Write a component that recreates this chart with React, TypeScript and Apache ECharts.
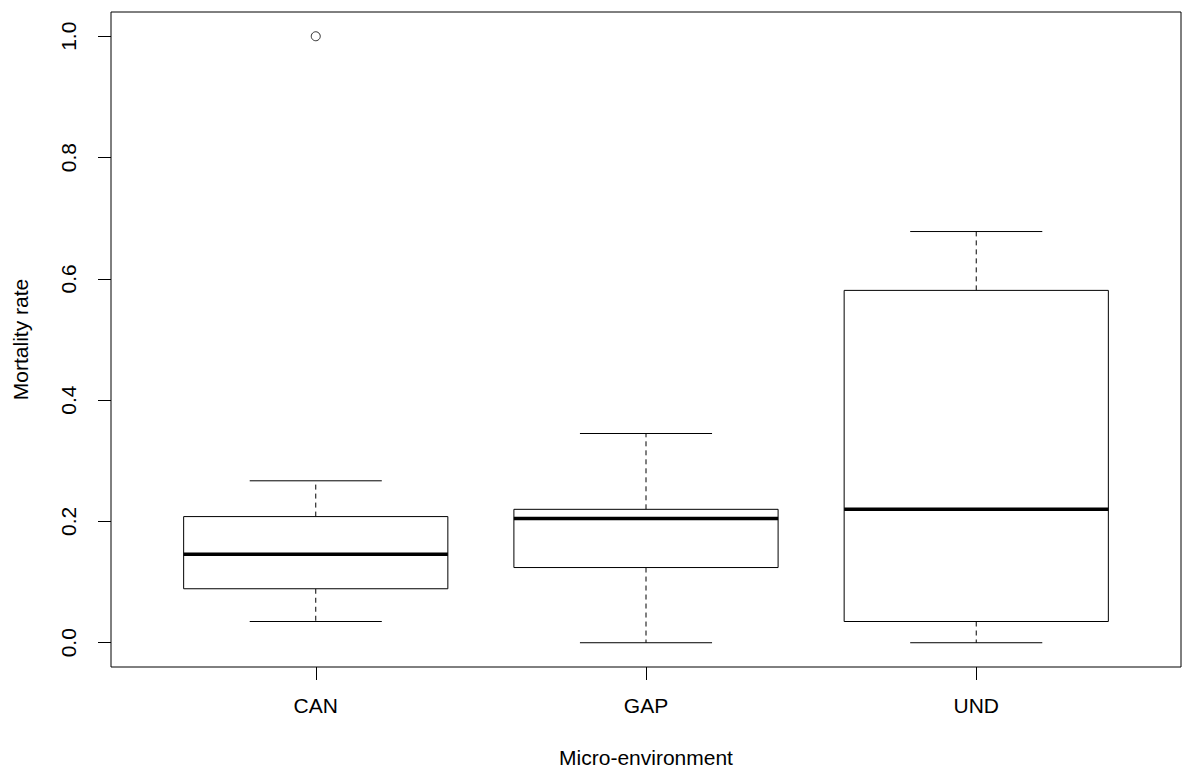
import React, { useEffect, useRef } from 'react';
import * as echarts from 'echarts';

const categories = ['CAN', 'GAP', 'UND'];
const xPositions = [1, 2, 3];
const lowerWhisker = [0.035, 0.0, 0.0];
const q1 = [0.089, 0.124, 0.035];
const median = [0.146, 0.205, 0.22];
const q3 = [0.208, 0.22, 0.581];
const upperWhisker = [0.267, 0.345, 0.678];
const outliers = [[1, 1.0]];
const yTicks = [0, 0.2, 0.4, 0.6, 0.8, 1.0];

const FONT = '"Liberation Sans", Arial, sans-serif';

export default function App() {
  const ref = useRef<HTMLDivElement>(null);

  useEffect(() => {
    const chart = echarts.init(ref.current!, null, { renderer: 'svg' });
    const boxData = categories.map((c, i) => [
      xPositions[i], lowerWhisker[i], q1[i], median[i], q3[i], upperWhisker[i],
    ]);

    chart.setOption({
      animation: false,
      backgroundColor: '#fff',
      grid: {
        left: 111, right: 1, top: 12, bottom: 103,
        show: true, borderColor: '#000', borderWidth: 1, backgroundColor: 'transparent',
      },
      xAxis: {
        type: 'value',
        min: 0.38,
        max: 3.62,
        axisLine: { show: false, onZero: false },
        splitLine: { show: false },
        axisTick: { show: true, length: 13, lineStyle: { color: '#000', width: 1 }, customValues: xPositions },
        axisLabel: {
          customValues: xPositions,
          formatter: (v: number) => {
            const i = xPositions.indexOf(Math.round(v));
            return i >= 0 ? categories[i] : '';
          },
          fontSize: 21, color: '#000', fontFamily: FONT, margin: 28,
        },
        name: 'Micro-environment',
        nameLocation: 'middle',
        nameGap: 80,
        nameTextStyle: { fontSize: 21, color: '#000', fontFamily: FONT },
      },
      yAxis: {
        type: 'value',
        min: -0.04,
        max: 1.04,
        axisLine: { show: false, onZero: false },
        splitLine: { show: false },
        axisTick: { show: true, length: 13, lineStyle: { color: '#000', width: 1 }, customValues: yTicks },
        axisLabel: {
          customValues: yTicks,
          rotate: 90,
          formatter: (v: number) => v.toFixed(1),
          fontSize: 21, color: '#000', fontFamily: FONT, margin: 32,
        },
        name: 'Mortality rate',
        nameLocation: 'middle',
        nameGap: 80,
        nameRotate: 90,
        nameTextStyle: { fontSize: 21, color: '#000', fontFamily: FONT },
      },
      series: [
        {
          type: 'custom',
          data: boxData,
          encode: { x: 0, y: [1, 2, 3, 4, 5] },
          renderItem: (params: any, api: any) => {
            const x = api.value(0);
            const lo = api.value(1);
            const a = api.value(2);
            const m = api.value(3);
            const b = api.value(4);
            const hi = api.value(5);
            const tl = api.coord([x - 0.4, b]);
            const br = api.coord([x + 0.4, a]);
            const ml = api.coord([x - 0.4, m]);
            const mr = api.coord([x + 0.4, m]);
            const cx = api.coord([x, 0])[0];
            const yLo = api.coord([x, lo])[1];
            const yHi = api.coord([x, hi])[1];
            const capL = api.coord([x - 0.2, 0])[0];
            const capR = api.coord([x + 0.2, 0])[0];
            const solid = { stroke: '#000', lineWidth: 1, fill: 'none' };
            const dashed = { stroke: '#000', lineWidth: 1, lineDash: [5, 4], fill: 'none' };
            return {
              type: 'group',
              children: [
                { type: 'line', shape: { x1: cx, y1: tl[1], x2: cx, y2: yHi }, style: dashed },
                { type: 'line', shape: { x1: cx, y1: br[1], x2: cx, y2: yLo }, style: dashed },
                { type: 'line', shape: { x1: capL, y1: yHi, x2: capR, y2: yHi }, style: solid },
                { type: 'line', shape: { x1: capL, y1: yLo, x2: capR, y2: yLo }, style: solid },
                {
                  type: 'rect',
                  shape: { x: tl[0], y: tl[1], width: br[0] - tl[0], height: br[1] - tl[1] },
                  style: { fill: '#fff', stroke: '#000', lineWidth: 1 },
                },
                { type: 'line', shape: { x1: ml[0], y1: ml[1], x2: mr[0], y2: mr[1] }, style: { stroke: '#000', lineWidth: 3.5 } },
              ],
            };
          },
        },
        {
          type: 'scatter',
          data: outliers,
          symbol: 'circle',
          symbolSize: 9,
          itemStyle: { color: 'transparent', borderColor: '#000', borderWidth: 1 },
        },
      ],
    });
    return () => chart.dispose();
  }, []);

  return (
    <div
      ref={ref}
      style={{ position: 'absolute', left: 0, top: 0, width: 1182, height: 773 }}
    />
  );
}
